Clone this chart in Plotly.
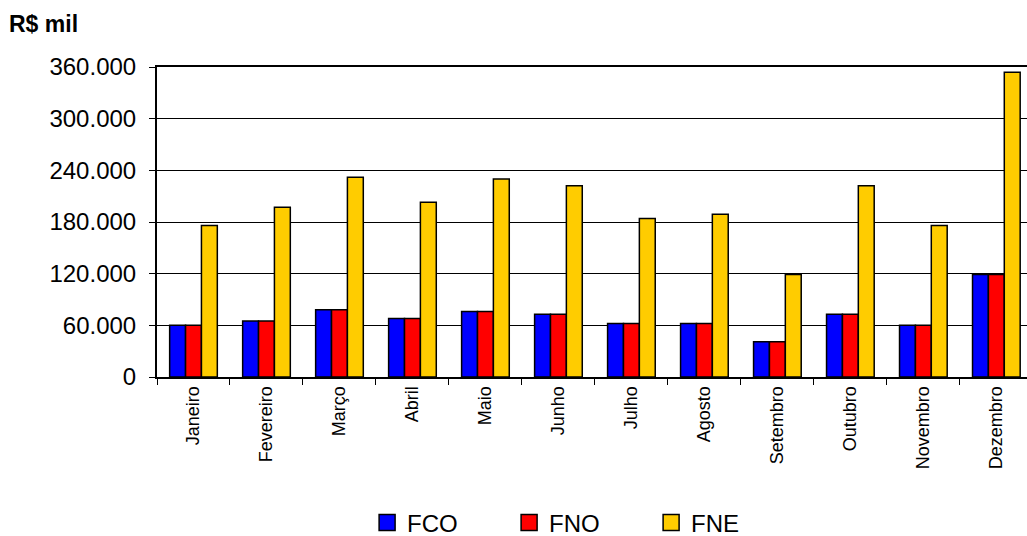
import plotly.graph_objects as go

meses = ["Janeiro", "Fevereiro", "Março", "Abril", "Maio", "Junho",
         "Julho", "Agosto", "Setembro", "Outubro", "Novembro", "Dezembro"]
fco = [60000, 65000, 78000, 68000, 76000, 73000, 62000, 62000, 41000, 73000, 60000, 119000]
fno = [60000, 65000, 78000, 68000, 76000, 73000, 62000, 62000, 41000, 73000, 60000, 119000]
fne = [176000, 197000, 232000, 203000, 230000, 222000, 184000, 189000, 119000, 222000, 176000, 354000]
yticks = [0, 60000, 120000, 180000, 240000, 300000, 360000]
yticklabels = ["0", "60.000", "120.000", "180.000", "240.000", "300.000", "360.000"]

FONT = "Liberation Sans, Arial, sans-serif"
series = [("FCO", fco, "#0000FF"), ("FNO", fno, "#FF0000"), ("FNE", fne, "#FFCC00")]

fig = go.Figure()
for name, vals, col in series:
    fig.add_trace(go.Bar(x=meses, y=vals, name=name, showlegend=False,
                         marker=dict(color=col, line=dict(color="black", width=1.5))))
for name, vals, col in series:
    fig.add_trace(go.Scatter(x=[None], y=[None], mode="markers", name=name,
                             marker=dict(symbol="square", size=17, color=col,
                                         line=dict(color="black", width=1.5))))

fig.update_layout(
    width=1027, height=536,
    margin=dict(l=157, r=0, t=67, b=159, autoexpand=False),
    paper_bgcolor="white", plot_bgcolor="white",
    barmode="group", bargap=0.347, bargroupgap=0,
    font=dict(family=FONT, color="black"),
    showlegend=True,
    legend=dict(orientation="h", x=0.2415, xanchor="left", y=-0.471, yanchor="middle",
                font=dict(size=24), entrywidth=97, entrywidthmode="pixels",
                itemsizing="trace", traceorder="normal", bgcolor="rgba(0,0,0,0)"),
    annotations=[dict(text="<b>R$ mil</b>", xref="paper", yref="paper", x=-0.172, y=1.138,
                      xanchor="left", yanchor="middle", showarrow=False,
                      font=dict(size=23, family=FONT))],
)
fig.update_xaxes(range=[-0.5, 11.42], tickangle=-90, tickfont=dict(size=18),
                 ticks="outside", tickson="boundaries", ticklen=6, tickcolor="black",
                 showline=True, mirror=True, linecolor="black", linewidth=2,
                 showgrid=False, automargin=False)
fig.update_yaxes(range=[0, 360000], tickvals=yticks, ticktext=yticklabels,
                 tickfont=dict(size=24), ticks="outside", ticklen=6, tickcolor="black",
                 ticklabelstandoff=8, automargin=False,
                 showline=True, linecolor="black", linewidth=2,
                 showgrid=True, gridcolor="black", gridwidth=1, zeroline=False)

fig.write_html("out.html", config={"displayModeBar": False},
               post_script="document.body.style.margin='0';document.body.style.overflow='hidden';")
